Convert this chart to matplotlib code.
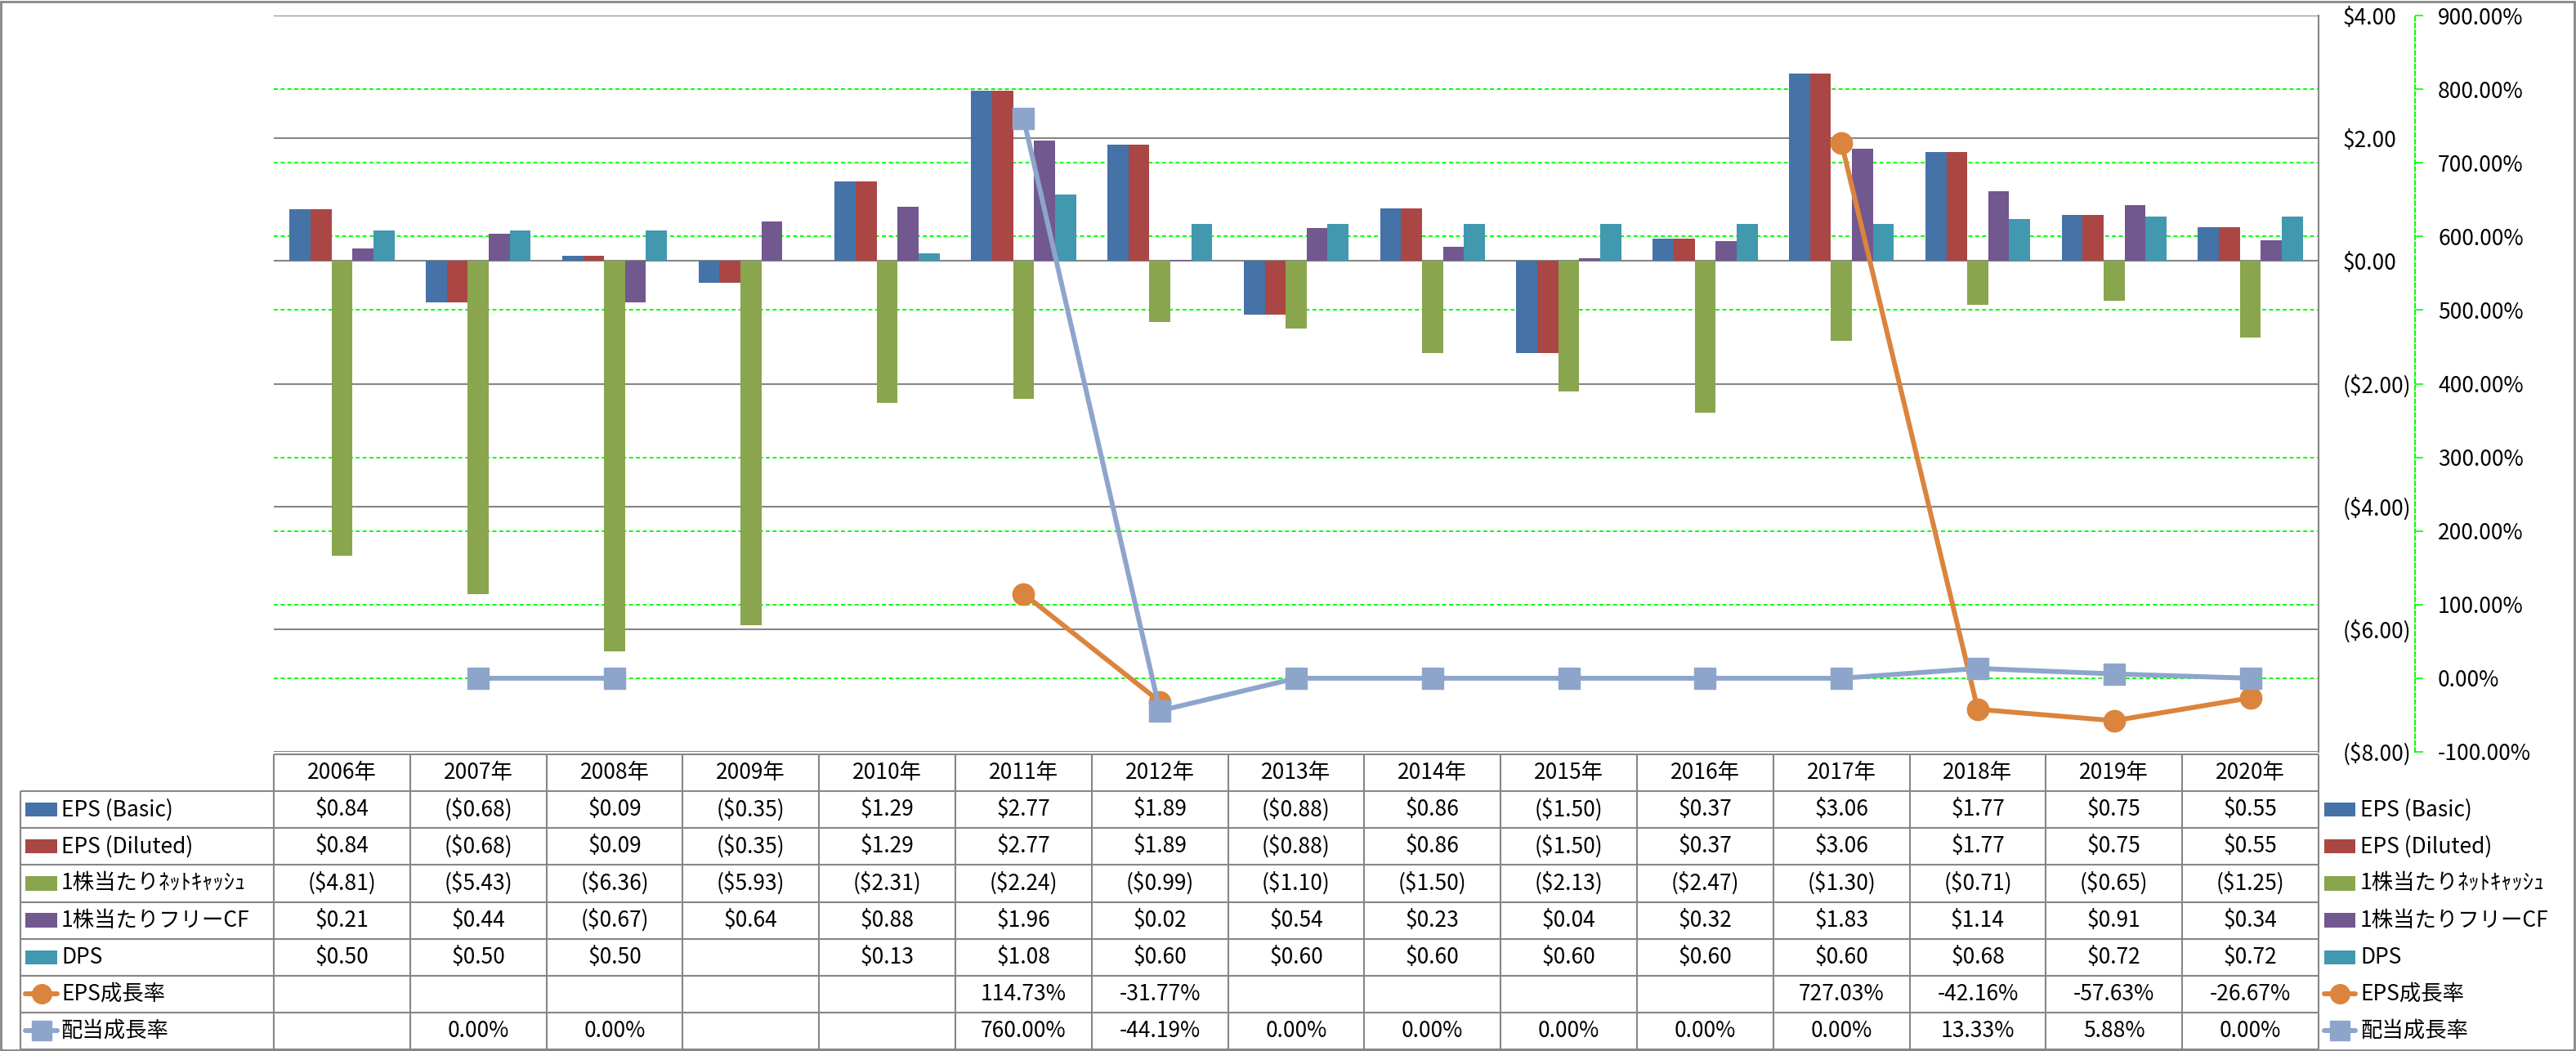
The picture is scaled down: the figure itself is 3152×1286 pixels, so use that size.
#!/usr/bin/env python3
# EPS / CF / DPS chart with data table below (Excel style).
import numpy as np
import matplotlib.pyplot as plt
from matplotlib.patches import Rectangle
from matplotlib.lines import Line2D
from matplotlib.transforms import blended_transform_factory

plt.rcParams['font.family'] = ['Noto Sans CJK JP', 'DejaVu Sans']

nan = np.nan

years = ["2006年", "2007年", "2008年", "2009年", "2010年", "2011年", "2012年", "2013年",
         "2014年", "2015年", "2016年", "2017年", "2018年", "2019年", "2020年"]
eps_basic = [0.84, -0.68, 0.09, -0.35, 1.29, 2.77, 1.89, -0.88, 0.86, -1.50, 0.37, 3.06, 1.77, 0.75, 0.55]
eps_diluted = [0.84, -0.68, 0.09, -0.35, 1.29, 2.77, 1.89, -0.88, 0.86, -1.50, 0.37, 3.06, 1.77, 0.75, 0.55]
net_cash = [-4.81, -5.43, -6.36, -5.93, -2.31, -2.24, -0.99, -1.10, -1.50, -2.13, -2.47, -1.30, -0.71, -0.65, -1.25]
free_cf = [0.21, 0.44, -0.67, 0.64, 0.88, 1.96, 0.02, 0.54, 0.23, 0.04, 0.32, 1.83, 1.14, 0.91, 0.34]
dps = [0.50, 0.50, 0.50, nan, 0.13, 1.08, 0.60, 0.60, 0.60, 0.60, 0.60, 0.60, 0.68, 0.72, 0.72]
eps_growth = [nan, nan, nan, nan, nan, 114.73, -31.77, nan, nan, nan, nan, 727.03, -42.16, -57.63, -26.67]
div_growth = [nan, 0.0, 0.0, nan, nan, 760.00, -44.19, 0.0, 0.0, 0.0, 0.0, 0.0, 13.33, 5.88, 0.0]

bar_names = ["EPS (Basic)", "EPS (Diluted)", "1株当たりﾈｯﾄｷｬｯｼｭ", "1株当たりフリーCF", "DPS"]
bar_series = [eps_basic, eps_diluted, net_cash, free_cf, dps]
bar_colors = ["#4572A7", "#AA4643", "#89A54E", "#71588F", "#4198AF"]
line_names = ["EPS成長率", "配当成長率"]
line_series = [eps_growth, div_growth]
line_colors = ["#DB843D", "#8EA5CB"]
line_markers = ["o", "s"]

y1_ticks = [4, 2, 0, -2, -4, -6, -8]
y2_ticks = [900, 800, 700, 600, 500, 400, 300, 200, 100, 0, -100]

W, H = 3152, 1286
PLOT_L, PLOT_R, PLOT_T, PLOT_B = 335, 2837, 19, 920
TAB_L, TAB_T, TAB_B = 25, 923, 1284
GRAY = "#868686"
FS = 19


def rect(l, t, r, b):
    return [l / W, 1 - b / H, (r - l) / W, (b - t) / H]


def money(v):
    if v is None or np.isnan(v):
        return ""
    return f"(${-v:.2f})" if v < 0 else f"${v:.2f}"


def pct(v):
    if v is None or np.isnan(v):
        return ""
    return f"{v:.2f}%"


fig = plt.figure(figsize=(W / 100, H / 100), dpi=100)
n = len(years)
x = np.arange(n)

# tło z zielonymi liniami siatki (oś pomocnicza)
ax_bg = fig.add_axes(rect(PLOT_L, PLOT_T, PLOT_R, PLOT_B), zorder=0)
ax_bg.set_xlim(-0.5, n - 0.5)
ax_bg.set_ylim(-100, 900)
ax_bg.set_yticks(y2_ticks)
ax_bg.yaxis.grid(True, color="#00FF00", lw=1.4, dashes=(2.5, 1.8))
ax_bg.tick_params(left=False, labelleft=False, bottom=False, labelbottom=False)
ax_bg.set_xticks([])
for s in ax_bg.spines.values():
    s.set_visible(False)

# słupki
ax = fig.add_axes(rect(PLOT_L, PLOT_T, PLOT_R, PLOT_B), zorder=1)
ax.patch.set_visible(False)
bw = 1 / 6.5
for i, (vals, col) in enumerate(zip(bar_series, bar_colors)):
    ax.bar(x + (i - 2) * bw, vals, width=bw, color=col, zorder=2)
ax.set_xlim(-0.5, n - 0.5)
ax.set_ylim(-8, 4)
ax.set_xticks([])
ax.set_yticks(y1_ticks)
ax.set_yticklabels([money(v) for v in y1_ticks])
for lab, v in zip(ax.get_yticklabels(), y1_ticks):
    lab.set_color("red" if v < 0 else "black")
ax.yaxis.tick_right()
ax.tick_params(axis="y", length=0, pad=21.6, labelsize=FS)
ax.set_axisbelow(True)
ax.yaxis.grid(True, color=GRAY, lw=1.5)
for k, s in ax.spines.items():
    s.set_visible(k == "right")
ax.spines["right"].set_color(GRAY)
ax.spines["right"].set_linewidth(1.5)

# linie (oś pomocnicza)
ax2 = fig.add_axes(rect(PLOT_L, PLOT_T, PLOT_R, PLOT_B), zorder=2)
ax2.patch.set_visible(False)
for vals, col, mk in zip(line_series, line_colors, line_markers):
    ax2.plot(x, vals, color=col, lw=4.3, marker=mk, ms=19, mec=col, mfc=col, zorder=3)
ax2.set_xlim(-0.5, n - 0.5)
ax2.set_ylim(-100, 900)
ax2.set_xticks([])
ax2.set_yticks(y2_ticks)
ax2.set_yticklabels([pct(v) for v in y2_ticks])
for lab, v in zip(ax2.get_yticklabels(), y2_ticks):
    lab.set_color("red" if v < 0 else "black")
ax2.yaxis.tick_right()
ax2.tick_params(axis="y", length=7.2, width=1.2, color="#00FF00", pad=13, labelsize=FS)
for k, s in ax2.spines.items():
    s.set_visible(k == "right")
ax2.spines["right"].set_position(("outward", (2955 - PLOT_R) * 0.72))
ax2.spines["right"].set_color("#00FF00")
ax2.spines["right"].set_linewidth(1.4)
ax2.spines["right"].set_linestyle((0, (2.5, 1.8)))

# tabela danych
cat_w = (PLOT_R - PLOT_L) / n
x_left = -0.5 - (PLOT_L - TAB_L) / cat_w
ax_t = fig.add_axes(rect(TAB_L, TAB_T, PLOT_R, TAB_B), zorder=1)
nrows = 1 + len(bar_series) + len(line_series)
ax_t.set_xlim(x_left, n - 0.5)
ax_t.set_ylim(nrows, 0)
ax_t.axis("off")
ax_t.hlines(0, -0.5, n - 0.5, color=GRAY, lw=1.5, clip_on=False)
ax_t.hlines(np.arange(1, nrows + 1), x_left, n - 0.5, color=GRAY, lw=1.5, clip_on=False)
ax_t.vlines(np.arange(n + 1) - 0.5, 0, nrows, color=GRAY, lw=1.5, clip_on=False)
ax_t.vlines(x_left, 1, nrows, color=GRAY, lw=1.5, clip_on=False)
for i, yr in enumerate(years):
    ax_t.text(i, 0.5, yr, ha="center", va="center", fontsize=FS)

row_names = bar_names + line_names
row_vals = [[money(v) for v in s] for s in bar_series] + [[pct(v) for v in s] for s in line_series]
for r, vals in enumerate(row_vals):
    for i, t in enumerate(vals):
        ax_t.text(i, r + 1.5, t, ha="center", va="center", fontsize=FS)

# legendy: w kolumnie etykiet i po prawej stronie
tr = blended_transform_factory(fig.transFigure, ax_t.transData)
for x0, x1, xt in [(31, 70, 75), (2844, 2882, 2888)]:
    for r, name in enumerate(row_names):
        yc = r + 1.5
        if r < len(bar_series):
            fig.add_artist(Rectangle((x0 / W, yc - 0.19), (x1 - x0) / W, 0.38,
                                     transform=tr, color=bar_colors[r], lw=0))
        else:
            k = r - len(bar_series)
            fig.add_artist(Line2D([x0 / W, x1 / W], [yc, yc], transform=tr, color=line_colors[k],
                                  lw=4.3, solid_capstyle="round"))
            fig.add_artist(Line2D([(x0 + x1) / 2 / W], [yc], transform=tr, color=line_colors[k],
                                  marker=line_markers[k], ms=17, lw=0))
        fig.text(xt / W, yc, name, transform=tr, ha="left", va="center", fontsize=FS)

# ramka wykresu
fig.add_artist(Rectangle((1 / W, 1 / H), (W - 3) / W, (H - 3) / H, transform=fig.transFigure,
                         fill=False, edgecolor=GRAY, lw=2))

fig.savefig("out.png", dpi=100)
